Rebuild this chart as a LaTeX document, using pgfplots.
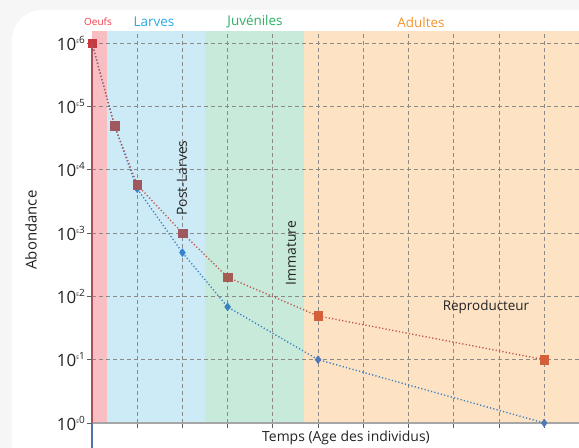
\documentclass[border=0pt]{standalone}
\usepackage{pgfplots}
\pgfplotsset{compat=1.18}
\usepackage{fontspec}
\setmainfont{Open Sans}

\definecolor{bandpink}{RGB}{248,190,194}
\definecolor{bandblue}{RGB}{205,235,247}
\definecolor{bandgreen}{RGB}{200,234,218}
\definecolor{bandorange}{RGB}{253,226,196}
\definecolor{redline}{RGB}{190,88,80}
\definecolor{redpink}{RGB}{200,58,64}
\definecolor{redblue}{RGB}{158,88,94}
\definecolor{redgreen}{RGB}{165,92,82}
\definecolor{redorange}{RGB}{212,96,58}
\definecolor{blueline}{RGB}{60,128,195}
\definecolor{blueblue}{RGB}{55,130,205}
\definecolor{bluegreen}{RGB}{60,128,190}
\definecolor{blueorange}{RGB}{80,120,180}
\definecolor{tpink}{RGB}{240,60,70}
\definecolor{tblue}{RGB}{40,170,225}
\definecolor{tgreen}{RGB}{45,175,100}
\definecolor{torange}{RGB}{247,148,40}
\definecolor{txt}{RGB}{35,35,35}
\definecolor{axred}{RGB}{170,80,90}
\definecolor{axblue}{RGB}{80,115,170}
\definecolor{gridc}{RGB}{140,138,134}

\newcommand{\ex}[1]{10\raisebox{7bp}{{\fontsize{5}{5}\selectfont E}{\fontsize{10}{10}\selectfont #1}}}

\begin{document}
\begin{tikzpicture}
\path[use as bounding box] (0,0) rectangle (579bp,448bp);
\clip (0,0) rectangle (579bp,448bp);
\fill[gray!7] (0,0) rectangle (579bp,448bp);
\fill[white, rounded corners=30bp] (12bp,-40bp) rectangle (640bp,438bp);

% life-stage bands behind the axis
\fill[bandpink] (92bp,25bp) rectangle (107bp,417bp);
\fill[bandblue] (107bp,25bp) rectangle (205bp,417bp);
\fill[bandgreen] (205bp,25bp) rectangle (304bp,417bp);
\fill[bandorange] (304bp,25bp) rectangle (579bp,417bp);

\begin{axis}[
    at={(92bp,25bp)}, anchor=south west,
    scale only axis,
    width=487bp, height=392bp,
    xmin=0, xmax=10.77,
    ymode=log, ymin=1, ymax=1.549e6,
    clip=false,
    axis line style={draw=none},
    xtick={1,2,3,4,5,6,7,8,9,10},
    xticklabels={},
    ytick={1,10,100,1000,10000,100000,1000000},
    yticklabels={\ex{0},\ex{1},\ex{2},\ex{3},\ex{4},\ex{5},\ex{6}},
    yticklabel style={font=\fontsize{17}{17}\selectfont, text=txt, inner xsep=2bp},
    tick pos=left,
    tick align=outside,
    major tick length=5bp,
    tick style={gray!75!black, line width=0.8bp},
    minor tick num=0,
    log basis y=10,
    xmajorgrids=true, ymajorgrids=true,
    grid style={gridc, line width=0.9bp, dash pattern=on 4bp off 3bp},
    dots/.style={line width=1.4bp, dash pattern=on 1.2bp off 2.2bp, forget plot},
    sq/.style={only marks, mark=square*, mark size=4.3bp, mark options={fill=#1, draw=#1}, forget plot},
    dm/.style={only marks, mark=diamond*, mark size=4bp, mark options={fill=#1, draw=#1}, forget plot},
]
% bottom axis line
\draw[gray!70, line width=1.2bp] (axis cs:0,1) -- (axis cs:10.77,1);

% lines
\addplot[blueline, dots] coordinates {(0,1000000)(0.5,49000)(1,5000)(2,490)(3,68)(5,10)(10,1)};
\addplot[redline, dots] coordinates {(0,1000000)(0.5,49000)(1,5750)(2,1000)(3,200)(5,49)(10,10)};

% blue diamonds
\addplot[dm=blueblue] coordinates {(1,5000)(2,490)};
\addplot[dm=bluegreen] coordinates {(3,68)};
\addplot[dm=blueorange] coordinates {(5,10)(10,1)};

% red squares
\addplot[sq=redpink] coordinates {(0,1000000)};
\addplot[sq=redblue] coordinates {(0.5,49000)(1,5750)(2,1000)};
\addplot[sq=redgreen] coordinates {(3,200)};
\addplot[sq=redorange] coordinates {(5,49)(10,10)};
\end{axis}

% left axis line
\draw[axred, line width=1.2bp] (92bp,405bp) -- (92bp,25bp);
\draw[axblue, line width=1.2bp] (92bp,25bp) -- (92bp,0bp);

% band titles
\node[text=tpink, font=\fontsize{10}{10}\selectfont] at (98bp,426bp) {Oeufs};
\node[text=tblue, font=\fontsize{13.5}{13.5}\selectfont] at (154bp,426bp) {Larves};
\node[text=tgreen, font=\fontsize{13.5}{13.5}\selectfont] at (255bp,426bp) {Juvéniles};
\node[text=torange, font=\fontsize{13.5}{13.5}\selectfont] at (421bp,426bp) {Adultes};

% stage labels
\node[text=txt, rotate=90, font=\fontsize{14}{14}\selectfont] at (182bp,270bp) {Post-Larves};
\node[text=txt, rotate=90, font=\fontsize{14}{14}\selectfont] at (291bp,195bp) {Immature};
\node[text=txt, font=\fontsize{13.5}{13.5}\selectfont] at (486bp,141bp) {Reproducteur};

% axis titles
\node[text=txt, rotate=90, font=\fontsize{15}{15}\selectfont] at (31bp,218bp) {Abondance};
\node[text=txt, font=\fontsize{14}{14}\selectfont] at (346bp,10bp) {Temps (Age des individus)};
\end{tikzpicture}
\end{document}
